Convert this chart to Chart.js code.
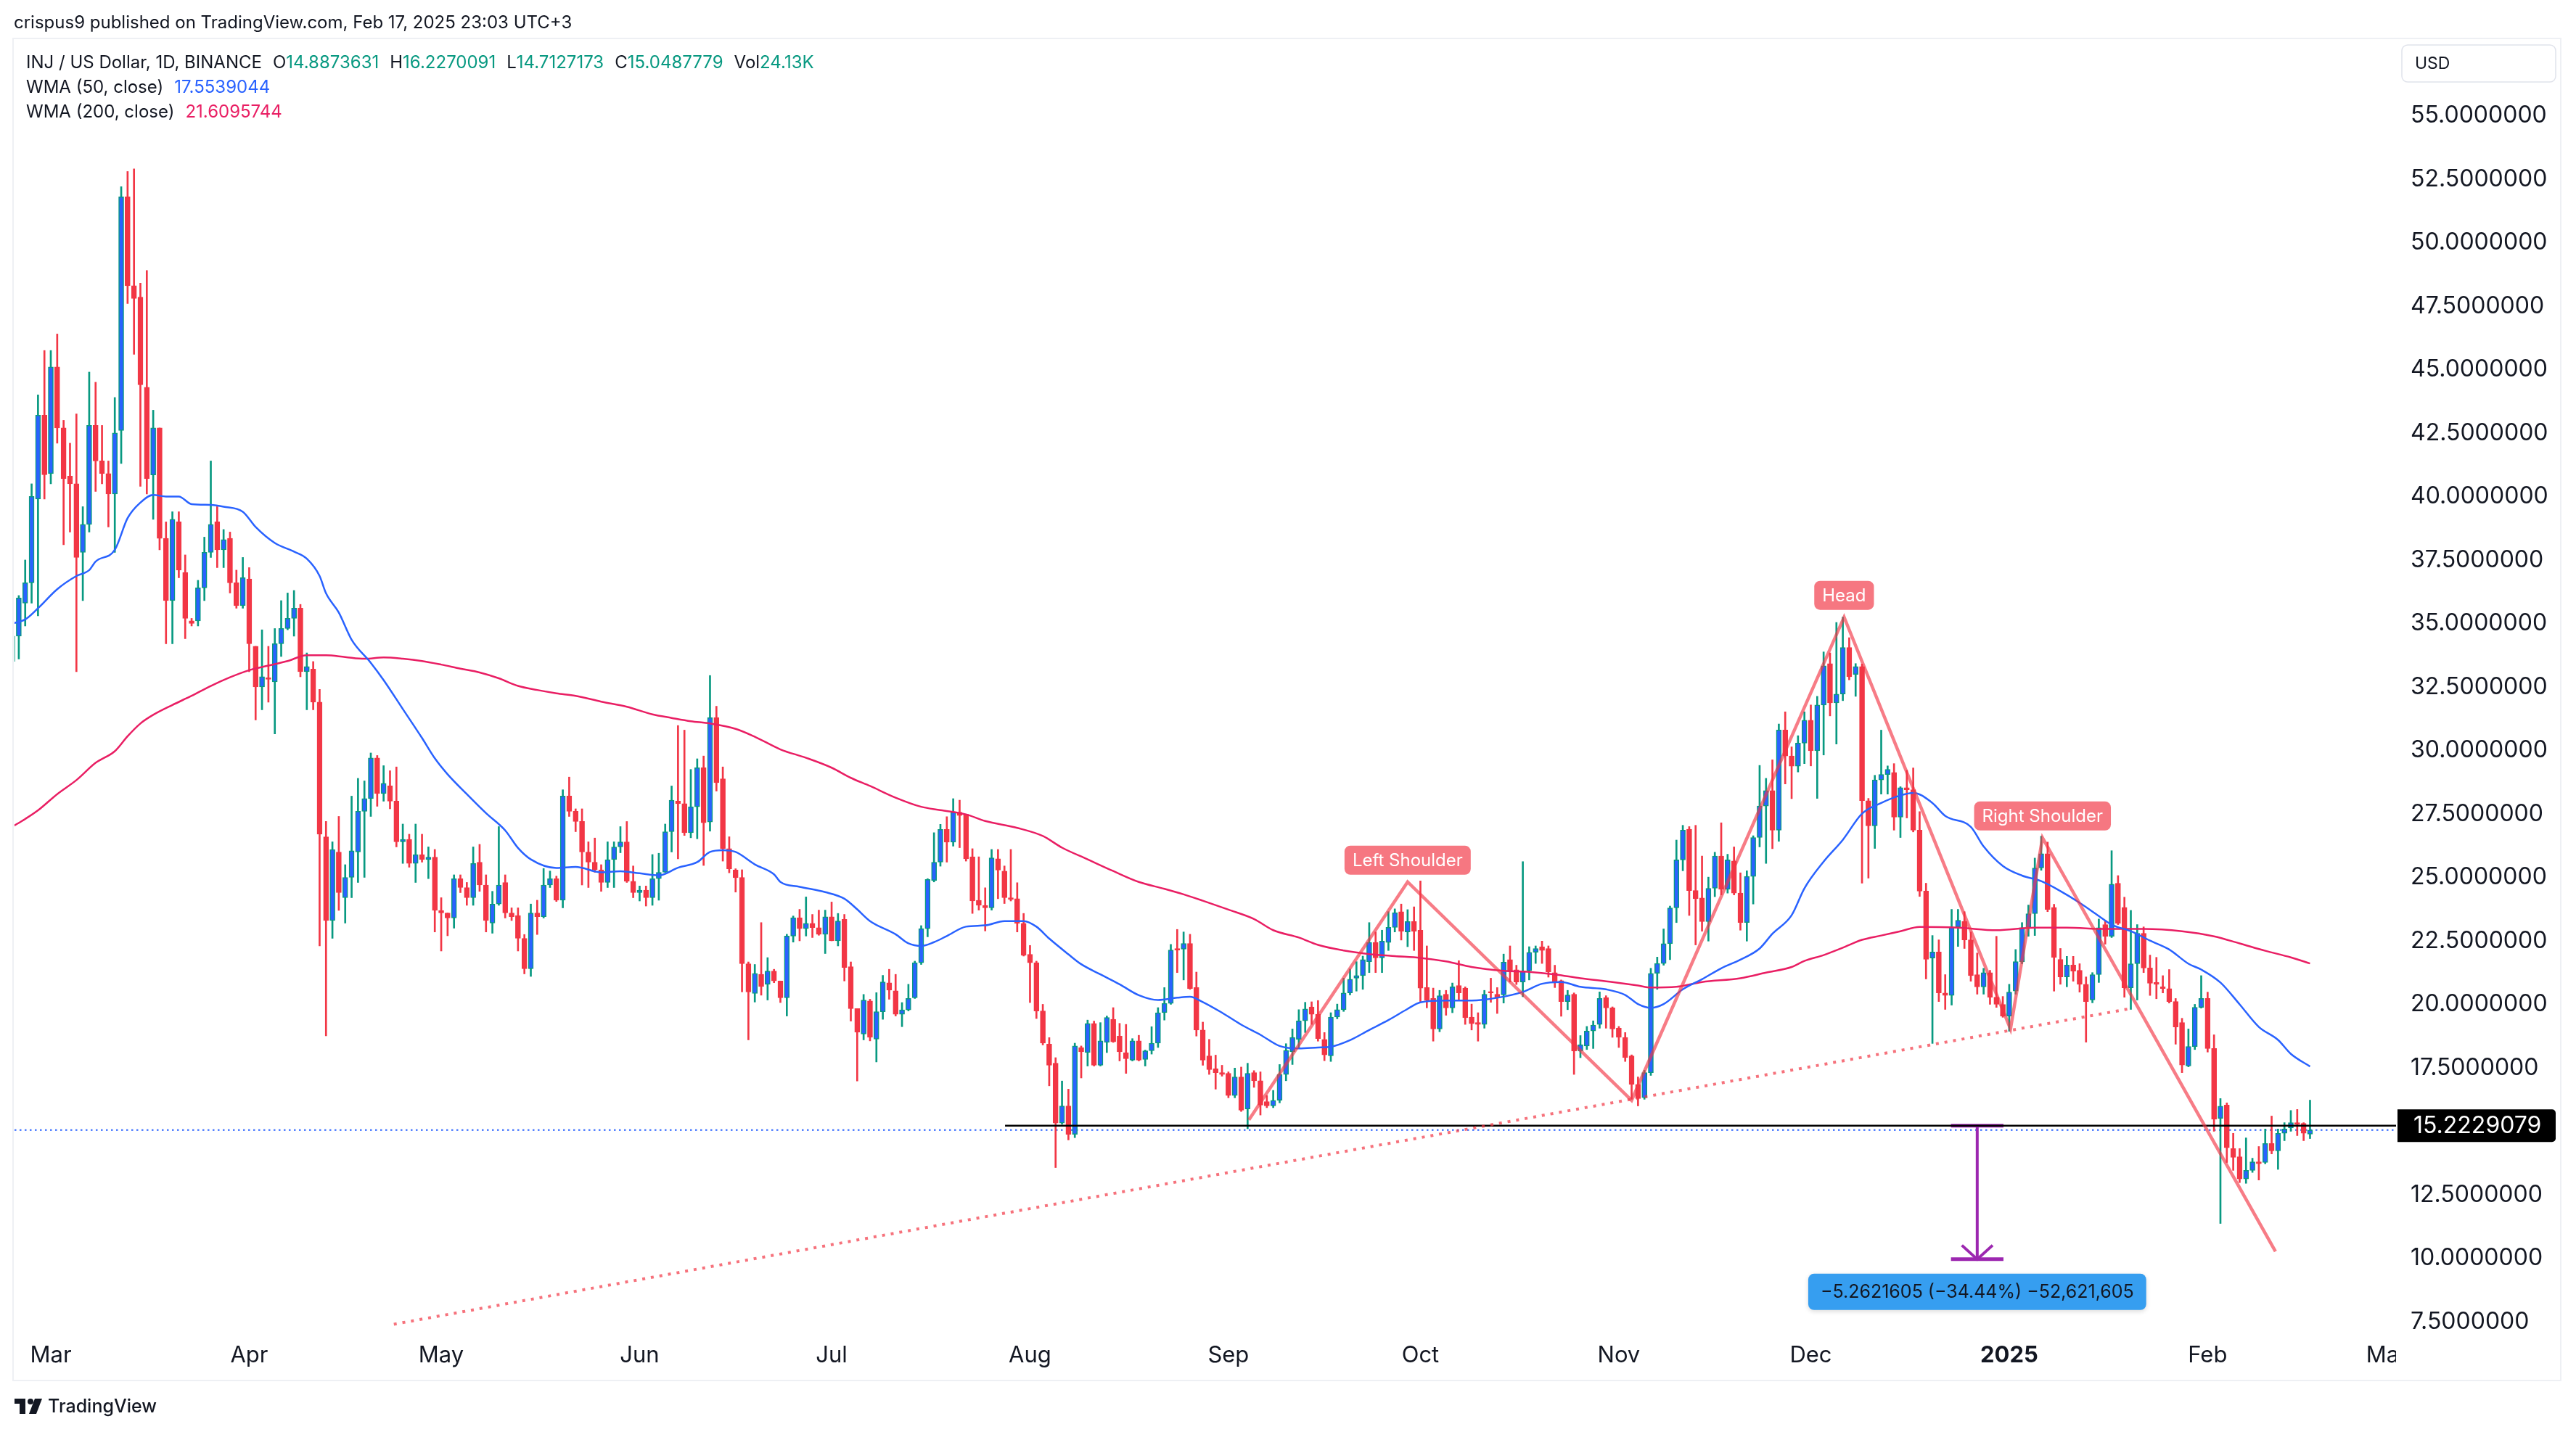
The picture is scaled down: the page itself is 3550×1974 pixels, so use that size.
<!DOCTYPE html>
<html>
<head>
<meta charset="utf-8">
<script src="https://cdn.jsdelivr.net/npm/chart.js@4.4.1/dist/chart.umd.min.js"></script>
<style>
  html, body { margin: 0; padding: 0; background: #fff; }
  #wrap { width: 3550px; height: 1974px; position: relative; }
</style>
</head>
<body>
<div id="wrap"><canvas id="chart"></canvas></div>
<script>
// INJ / US Dollar, 1D, BINANCE. day 0 = Mar 1 2024, first candle Feb 24 2024
const firstDay = -6;
const opens = [
  33.5, 34.5, 35.8, 36.6, 39.9, 43.2, 40.9, 45.1, 42.7, 40.8,
  40.5, 37.8, 38.9, 42.8, 41.4, 40.9, 40.1, 42.6, 51.8, 48.3,
  47.85, 44.3, 40.85, 42.7, 38.35, 35.9, 39.0, 37.0, 35.1, 35.1,
  36.4, 37.8, 39.0, 37.9, 38.35, 36.6, 35.7, 36.75, 34.1, 32.5,
  32.85, 32.7, 34.2, 34.8, 35.2, 35.6, 33.1, 33.2, 31.9, 26.6,
  23.3, 26.0, 24.2, 25.0, 26.0, 27.6, 28.1, 29.7, 28.3, 28.6,
  28.0, 26.4, 26.5, 25.55, 25.9, 25.7, 25.8, 23.7, 23.6, 23.4,
  24.95, 24.6, 24.2, 25.6, 24.7, 23.2, 23.95, 24.8, 23.6, 23.5,
  22.6, 21.4, 23.6, 23.45, 24.7, 24.95, 24.1, 28.2, 27.6, 27.2,
  26.0, 25.6, 25.3, 24.8, 25.7, 26.2, 26.4, 24.85, 24.4, 24.5,
  24.2, 24.95, 25.2, 26.8, 28.0, 27.9, 26.76, 27.78, 29.32, 27.18,
  31.29, 28.88, 26.13, 25.29, 25.0, 21.6, 20.43, 21.18, 20.79, 21.31,
  20.92, 20.26, 22.69, 23.41, 22.98, 23.19, 23.02, 22.76, 23.45, 22.5,
  23.35, 21.48, 19.83, 18.83, 20.13, 18.63, 19.71, 20.85, 20.53, 19.61,
  19.78, 20.26, 21.64, 22.98, 24.88, 25.6, 26.89, 26.39, 27.57, 27.48,
  25.81, 24.1, 23.9, 23.8, 25.73, 25.25, 24.2, 24.16, 23.19, 21.97,
  21.64, 19.74, 18.43, 17.68, 15.32, 16.0, 14.88, 18.3, 18.1, 19.25,
  17.6, 18.5, 19.41, 18.75, 18.1, 17.8, 18.56, 17.83, 18.17, 18.47,
  19.67, 20.04, 22.19, 22.17, 22.4, 20.66, 18.99, 17.97, 17.46, 17.31,
  17.28, 16.41, 17.14, 15.88, 17.31, 16.99, 16.17, 16.0, 16.22, 17.24,
  18.14, 18.62, 19.35, 19.9, 19.61, 18.62, 17.97, 19.5, 19.79, 20.45,
  21.03, 21.13, 21.68, 22.44, 21.83, 22.44, 23.03, 23.65, 22.85, 23.26,
  22.92, 20.66, 20.23, 19.03, 20.4, 19.86, 20.74, 20.64, 19.5, 19.28,
  19.21, 20.49, 20.4, 20.37, 21.76, 21.36, 20.88, 21.32, 22.05, 22.27,
  22.2, 21.25, 20.93, 20.11, 20.4, 18.16, 18.36, 18.95, 19.21, 20.26,
  19.86, 19.06, 18.7, 17.97, 16.85, 16.32, 17.31, 21.22, 21.61, 22.39,
  23.8, 25.69, 26.9, 24.48, 24.19, 23.26, 24.57, 25.84, 24.53, 25.65,
  24.38, 23.22, 25.04, 26.57, 27.81, 28.42, 26.86, 30.8, 29.78, 29.38,
  30.29, 31.19, 29.99, 31.79, 33.42, 31.87, 32.22, 34.05, 32.99, 33.3,
  28.02, 27.03, 28.84, 29.05, 29.13, 27.37, 28.53, 28.45, 26.86, 24.46,
  21.82, 22.06, 20.45, 20.35, 23.05, 23.26, 22.54, 21.17, 20.69, 21.25,
  20.28, 20.0, 19.54, 20.52, 21.68, 23.02, 23.57, 25.37, 25.93, 23.82,
  21.77, 21.08, 21.55, 21.34, 20.79, 20.17, 21.17, 23.14, 22.68, 24.77,
  23.82, 20.65, 21.6, 22.8, 21.43, 20.86, 20.69, 20.62, 20.11, 19.28,
  17.57, 18.34, 19.88, 20.23, 18.26, 15.51, 16.03, 14.32, 14.0, 13.12,
  13.46, 13.8, 13.77, 14.52, 14.23, 14.92, 15.14, 15.34, 15.31, 14.8873631
];
const highs = [
  34.7, 36.1, 37.5, 40.5, 44.0, 45.75, 45.75, 46.4, 43.0, 42.1,
  43.25, 39.6, 44.9, 44.5, 42.8, 41.4, 43.9, 52.2, 52.8, 52.9,
  48.4, 48.9, 43.4, 42.7, 39.0, 39.4, 39.4, 37.7, 35.2, 36.7,
  38.4, 41.4, 39.6, 38.7, 38.6, 37.1, 37.6, 37.2, 34.1, 34.75,
  34.1, 34.8, 35.9, 36.2, 36.3, 35.75, 33.84, 33.5, 32.4, 27.2,
  26.4, 27.4, 25.5, 28.2, 28.9, 28.8, 29.9, 29.8, 29.4, 29.2,
  29.35, 27.1, 26.7, 27.1, 26.7, 26.2, 26.1, 24.2, 23.6, 25.1,
  25.1, 24.8, 26.2, 26.3, 25.1, 24.45, 27.0, 25.1, 23.8, 23.8,
  22.75, 23.95, 24.1, 25.35, 25.25, 25.05, 28.45, 28.95, 27.7, 27.7,
  26.4, 26.55, 25.5, 26.4, 26.4, 27.0, 27.2, 25.45, 24.66, 24.66,
  25.9, 25.95, 27.1, 28.6, 30.98, 30.8, 29.25, 29.67, 29.78, 32.95,
  31.74, 29.35, 26.6, 25.34, 25.3, 21.67, 21.57, 23.22, 21.84, 21.38,
  20.92, 22.76, 23.48, 23.74, 24.23, 23.54, 23.71, 23.71, 24.03, 23.58,
  23.54, 21.67, 19.83, 20.39, 20.2, 20.46, 21.14, 21.38, 21.18, 20.07,
  20.79, 21.7, 23.1, 24.95, 26.76, 27.09, 27.39, 28.1, 28.04, 27.48,
  26.13, 25.81, 24.59, 26.1, 26.1, 25.45, 26.1, 24.79, 23.58, 22.32,
  21.7, 20.0, 18.69, 17.9, 16.98, 16.66, 18.47, 18.36, 19.38, 19.34,
  19.28, 19.54, 19.87, 19.25, 19.21, 18.65, 18.78, 18.2, 19.12, 19.87,
  20.66, 22.36, 22.95, 22.85, 22.76, 21.27, 19.3, 18.62, 18.0, 17.6,
  17.34, 17.49, 17.53, 17.68, 17.39, 17.34, 16.41, 16.61, 17.63, 18.45,
  19.03, 19.79, 20.08, 20.1, 20.15, 18.89, 19.67, 20.01, 21.03, 21.39,
  21.68, 21.9, 23.22, 22.85, 22.92, 23.65, 23.76, 23.95, 23.73, 23.84,
  24.86, 22.3, 20.64, 20.55, 20.55, 20.84, 21.72, 20.69, 20.01, 19.67,
  20.55, 21.03, 20.66, 21.98, 22.3, 21.54, 25.62, 22.27, 22.3, 22.49,
  22.3, 21.54, 20.96, 20.55, 20.45, 18.77, 19.13, 19.35, 20.49, 20.34,
  19.9, 19.13, 18.89, 18.01, 17.14, 17.4, 21.42, 21.86, 22.97, 23.87,
  26.47, 27.05, 27.0, 27.05, 25.84, 25.01, 25.99, 27.15, 25.91, 26.2,
  25.18, 25.26, 26.64, 29.41, 28.9, 29.63, 31.04, 31.52, 30.14, 30.58,
  31.52, 31.79, 32.13, 33.88, 33.84, 35.04, 35.25, 34.44, 33.42, 33.4,
  28.11, 29.02, 30.8, 29.39, 29.48, 28.57, 29.22, 29.31, 27.59, 24.77,
  22.71, 22.54, 21.17, 23.74, 23.74, 23.65, 22.85, 22.02, 21.42, 21.34,
  22.68, 20.31, 20.79, 22.16, 23.22, 23.91, 25.76, 26.62, 26.39, 23.94,
  22.2, 21.89, 21.89, 21.6, 21.08, 21.25, 23.36, 23.31, 26.05, 25.07,
  24.22, 23.7, 23.14, 23.05, 21.94, 21.85, 21.13, 21.37, 20.23, 19.45,
  19.03, 20.0, 21.13, 20.48, 18.8, 16.29, 16.12, 14.92, 14.32, 14.74,
  13.94, 14.4, 15.09, 15.6, 15.09, 15.34, 15.82, 15.86, 15.34, 16.2270091
];
const lows = [
  32.9, 33.6, 34.9, 35.8, 35.3, 39.9, 40.5, 42.1, 38.1, 38.6,
  33.1, 35.9, 38.6, 40.2, 40.5, 38.8, 37.8, 41.3, 47.6, 45.6,
  40.4, 40.1, 39.1, 37.9, 34.2, 34.2, 36.8, 34.4, 34.9, 34.9,
  35.9, 37.6, 37.2, 37.2, 36.2, 35.6, 35.6, 33.1, 31.2, 31.6,
  31.9, 30.65, 33.7, 34.75, 34.5, 32.9, 31.6, 31.6, 22.3, 18.76,
  22.6, 23.7, 23.2, 24.2, 24.8, 25.0, 27.4, 27.8, 28.0, 27.7,
  26.2, 25.55, 25.4, 24.8, 25.6, 24.95, 22.85, 22.1, 22.7, 23.0,
  24.4, 23.9, 23.9, 24.45, 22.85, 22.8, 23.9, 23.4, 23.3, 22.1,
  21.2, 21.1, 22.75, 23.4, 24.6, 24.05, 23.8, 27.4, 26.8, 24.7,
  24.6, 25.2, 24.45, 24.6, 24.6, 25.97, 24.8, 24.2, 24.07, 23.87,
  23.9, 24.1, 25.2, 26.0, 25.73, 26.65, 26.56, 26.52, 25.47, 26.82,
  28.4, 25.64, 25.18, 24.42, 20.49, 18.6, 20.09, 20.36, 20.17, 20.85,
  20.07, 19.54, 22.45, 22.5, 22.69, 22.63, 22.72, 22.0, 22.5, 22.3,
  20.92, 19.34, 16.98, 18.6, 18.56, 17.73, 19.41, 20.2, 19.54, 19.12,
  19.74, 20.23, 21.57, 22.66, 24.82, 25.44, 25.6, 26.23, 26.17, 25.64,
  23.58, 23.71, 22.89, 23.71, 24.16, 23.97, 24.07, 22.85, 21.9, 20.07,
  19.44, 18.4, 16.79, 13.57, 15.28, 14.66, 14.75, 17.1, 17.57, 17.57,
  17.57, 18.1, 18.5, 17.77, 17.28, 17.77, 17.77, 17.57, 18.04, 18.3,
  19.38, 20.0, 21.25, 20.96, 20.59, 18.75, 17.6, 17.24, 16.66, 17.17,
  16.32, 16.32, 15.78, 15.1, 16.73, 15.64, 15.93, 15.93, 16.12, 16.99,
  17.63, 18.3, 18.89, 19.21, 18.55, 17.78, 17.75, 19.43, 19.72, 20.37,
  20.52, 20.59, 21.25, 21.25, 21.25, 22.12, 22.85, 22.53, 22.27, 22.12,
  20.11, 19.86, 18.55, 18.92, 19.57, 19.67, 20.15, 19.21, 18.99, 18.55,
  19.06, 20.08, 19.64, 20.05, 20.88, 20.78, 20.3, 20.96, 21.61, 21.61,
  21.07, 20.66, 19.53, 19.79, 17.24, 17.9, 18.22, 18.26, 19.06, 19.06,
  18.7, 18.3, 17.75, 16.26, 16.0, 16.26, 17.2, 20.59, 21.54, 21.76,
  23.22, 25.26, 23.5, 22.34, 22.88, 22.49, 24.24, 24.31, 24.38, 24.31,
  22.92, 22.49, 23.95, 26.2, 25.55, 26.13, 26.42, 28.68, 28.1, 29.15,
  29.48, 29.39, 28.11, 29.82, 31.36, 30.25, 31.96, 32.78, 32.13, 24.77,
  24.97, 26.14, 28.28, 28.28, 26.86, 26.57, 27.34, 26.79, 24.25, 21.0,
  18.46, 20.11, 19.8, 19.97, 22.28, 22.2, 20.91, 20.4, 20.4, 20.0,
  19.88, 19.49, 18.94, 20.4, 21.6, 22.68, 22.71, 25.28, 23.65, 20.52,
  20.79, 20.69, 20.91, 20.48, 18.51, 20.06, 20.86, 22.37, 22.63, 23.14,
  20.28, 19.8, 20.17, 21.25, 20.35, 20.22, 20.45, 20.05, 18.43, 17.31,
  17.54, 18.22, 19.85, 18.12, 15.0, 11.37, 13.77, 13.46, 12.98, 12.95,
  13.38, 13.08, 13.72, 14.11, 13.5, 14.63, 15.0, 14.83, 14.63, 14.7127173
];
const closes = [
  34.5, 36.0, 36.6, 40.0, 43.2, 40.86, 45.1, 42.7, 40.7, 40.5,
  37.6, 38.9, 42.8, 41.4, 40.9, 40.1, 42.5, 51.8, 48.3, 47.8,
  44.4, 40.7, 42.7, 38.35, 35.9, 39.1, 37.1, 35.2, 35.0, 36.4,
  37.8, 38.9, 37.9, 38.3, 36.6, 35.7, 36.8, 34.2, 32.5, 32.9,
  32.8, 34.2, 34.8, 35.2, 35.6, 33.1, 33.3, 31.9, 26.7, 23.3,
  26.1, 24.4, 25.0, 26.05, 27.6, 28.1, 29.7, 28.3, 28.7, 28.0,
  26.4, 26.5, 25.55, 25.9, 25.7, 25.8, 23.7, 23.6, 23.4, 24.95,
  24.6, 24.2, 25.55, 24.7, 23.3, 23.95, 24.7, 23.6, 23.45, 22.6,
  21.4, 23.6, 23.45, 24.7, 24.95, 24.1, 28.2, 27.6, 27.2, 26.0,
  25.6, 25.3, 24.8, 25.7, 26.2, 26.4, 24.85, 24.4, 24.5, 24.2,
  24.95, 25.2, 26.8, 28.04, 27.9, 26.76, 27.78, 29.32, 27.15, 31.29,
  28.73, 26.13, 25.34, 24.99, 21.6, 20.49, 21.22, 20.7, 21.31, 20.92,
  20.26, 22.69, 23.41, 22.98, 23.19, 23.02, 22.76, 23.45, 22.5, 23.28,
  21.45, 19.83, 18.9, 20.17, 18.7, 19.71, 20.88, 20.56, 19.61, 19.78,
  20.23, 21.64, 22.98, 24.92, 25.6, 26.89, 26.39, 27.57, 27.44, 25.73,
  24.07, 23.9, 23.8, 25.77, 25.29, 24.2, 24.13, 23.19, 21.93, 21.64,
  19.74, 18.47, 17.6, 15.32, 16.0, 14.88, 18.36, 18.13, 19.25, 17.6,
  18.56, 19.48, 18.52, 18.13, 17.86, 18.56, 17.8, 18.17, 18.47, 19.67,
  20.04, 22.14, 22.14, 22.4, 20.62, 18.99, 17.8, 17.43, 17.31, 17.24,
  16.41, 17.14, 15.83, 17.28, 16.99, 16.03, 16.0, 16.22, 17.24, 18.19,
  18.7, 19.35, 19.82, 19.61, 18.65, 18.01, 19.5, 19.79, 20.45, 20.99,
  21.13, 21.76, 22.44, 21.83, 22.49, 23.03, 23.61, 22.88, 23.26, 22.88,
  20.64, 20.15, 19.03, 20.34, 19.86, 20.69, 20.45, 19.47, 19.24, 19.21,
  20.4, 20.45, 20.26, 21.66, 21.32, 20.88, 21.32, 22.05, 22.2, 22.12,
  21.28, 20.88, 20.11, 20.37, 18.16, 18.41, 18.95, 19.18, 20.23, 19.86,
  19.03, 18.7, 17.9, 16.85, 16.29, 17.31, 21.22, 21.61, 22.39, 23.8,
  25.69, 26.86, 24.48, 24.16, 23.26, 24.57, 25.84, 24.53, 25.69, 24.38,
  23.22, 25.04, 26.57, 27.81, 28.42, 26.86, 30.8, 29.78, 29.38, 30.29,
  31.19, 29.99, 31.79, 33.33, 31.87, 32.22, 34.05, 32.9, 33.3, 28.02,
  27.03, 28.84, 29.05, 29.25, 27.37, 28.53, 28.45, 26.86, 24.46, 21.77,
  22.06, 20.45, 20.35, 23.05, 23.31, 22.54, 21.13, 20.69, 21.25, 20.28,
  20.0, 19.54, 20.48, 21.68, 23.02, 23.57, 25.37, 25.93, 23.74, 21.85,
  21.08, 21.55, 21.31, 20.79, 20.11, 21.17, 23.02, 22.68, 24.73, 23.19,
  20.65, 21.6, 22.8, 21.43, 20.83, 20.79, 20.62, 20.11, 19.11, 17.61,
  18.34, 19.88, 20.23, 18.26, 15.48, 15.99, 14.35, 13.97, 13.12, 13.46,
  13.8, 13.72, 14.52, 14.23, 14.92, 15.09, 15.34, 15.28, 14.92, 15.0487779
];
const lastVolume = '24.13K';

// WMA (50, close)
const wma50Days = [-6, -4, -2, 1, 4, 6, 7, 10, 12, 14, 16, 18, 20, 22, 25, 27, 30, 32, 35, 38,
  40, 42, 43, 45, 47, 50, 52, 55, 58, 60, 62, 65, 68, 71, 73, 75, 79, 82, 86, 89,
  92, 95, 98, 101, 103, 105, 107, 110, 113, 114, 117, 121, 124, 126, 128, 132, 134, 136, 138, 140,
  143, 146, 149, 152, 154, 156, 159, 161, 164, 167, 170, 173, 176, 178, 180, 183, 186, 189, 192, 195,
  198, 200, 203, 206, 209, 212, 214, 218, 222, 226, 230, 233, 236, 239, 243, 246, 248, 250, 252, 255,
  258, 261, 264, 267, 269, 272, 274, 277, 280, 283, 286, 289, 291, 294, 296, 300, 302, 305, 308, 311,
  314, 317, 320, 322, 325, 328, 331, 334, 336, 339, 342, 345, 348, 350, 353];
const wma50 = [35.0, 35.16, 35.6, 36.35, 36.87, 37.1, 37.44, 37.9, 39.15, 39.76, 40.06, 40.0, 40.0, 39.7, 39.67, 39.6, 39.4, 38.8, 38.17, 37.83,
  37.55, 36.87, 36.19, 35.43, 34.36, 33.45, 32.77, 31.63, 30.49, 29.69, 29.06, 28.28, 27.53, 26.85, 26.16, 25.71, 25.37, 25.41, 25.2, 25.24,
  25.16, 25.08, 25.38, 25.6, 26.0, 26.07, 26.0, 25.51, 25.12, 24.82, 24.63, 24.42, 24.16, 23.74, 23.28, 22.76, 22.4, 22.3, 22.45, 22.69,
  23.06, 23.11, 23.28, 23.28, 23.06, 22.59, 21.97, 21.58, 21.18, 20.79, 20.36, 20.17, 20.26, 20.3, 20.09, 19.67, 19.2, 18.8, 18.36, 18.26,
  18.3, 18.33, 18.59, 18.99, 19.38, 19.82, 20.08, 20.15, 20.15, 20.26, 20.49, 20.81, 20.88, 20.69, 20.59, 20.37, 20.01, 19.86, 20.01, 20.59,
  20.99, 21.42, 21.76, 22.2, 22.78, 23.51, 24.57, 25.62, 26.48, 27.51, 27.93, 28.23, 28.33, 27.93, 27.42, 26.99, 26.22, 25.45, 25.07, 24.85,
  24.46, 24.0, 23.48, 23.14, 22.88, 22.51, 22.16, 21.6, 21.37, 20.86, 20.0, 19.11, 18.6, 18.05, 17.5539044];

// WMA (200, close)
const wma200Days = [-6, -4, -2, 1, 4, 7, 10, 12, 14, 16, 19, 22, 25, 28, 31, 34, 37, 40, 43, 46,
  49, 52, 55, 58, 61, 64, 67, 70, 73, 76, 79, 82, 86, 90, 94, 97, 100, 103, 107, 110,
  114, 118, 122, 125, 128, 132, 136, 139, 143, 146, 151, 155, 158, 162, 166, 170, 174, 177, 180, 184,
  188, 191, 195, 198, 202, 206, 210, 214, 218, 222, 227, 231, 235, 239, 244, 248, 250, 254, 258, 264,
  268, 272, 274, 277, 280, 283, 286, 289, 292, 298, 304, 310, 315, 321, 327, 333, 338, 342, 346, 350, 353];
const wma200 = [27.0, 27.3, 27.64, 28.28, 28.83, 29.51, 29.97, 30.56, 31.06, 31.4, 31.79, 32.15, 32.54, 32.88, 33.16, 33.34, 33.52, 33.75, 33.75, 33.68,
  33.61, 33.66, 33.61, 33.52, 33.38, 33.22, 33.07, 32.84, 32.54, 32.38, 32.25, 32.15, 31.92, 31.72, 31.42, 31.28, 31.15, 31.06, 30.85, 30.54,
  30.04, 29.71, 29.32, 28.92, 28.6, 28.14, 27.78, 27.65, 27.48, 27.22, 26.95, 26.63, 26.17, 25.71, 25.25, 24.82, 24.55, 24.33, 24.08, 23.73,
  23.36, 22.92, 22.63, 22.34, 22.12, 21.98, 21.9, 21.83, 21.69, 21.47, 21.32, 21.28, 21.18, 21.03, 20.88, 20.74, 20.66, 20.69, 20.88, 21.03,
  21.25, 21.47, 21.71, 21.94, 22.23, 22.54, 22.71, 22.88, 23.05, 23.02, 22.92, 23.02, 23.02, 22.97, 22.97, 22.88, 22.68, 22.4, 22.11, 21.85, 21.6095744];

// axis ticks
const monthDays = [0, 31, 61, 92, 122, 153, 184, 214, 245, 275, 306, 337, 365];
const monthLabels = ['Mar', 'Apr', 'May', 'Jun', 'Jul', 'Aug', 'Sep', 'Oct', 'Nov', 'Dec', '2025', 'Feb', 'Mar'];
const priceTicks = [7.5, 10, 12.5, 15, 17.5, 20, 22.5, 25, 27.5, 30, 32.5, 35, 37.5, 40, 42.5, 45, 47.5, 50, 52.5, 55];

// head and shoulders drawing
const patternDays = [187.2, 212, 247, 280.2, 306.2, 311.2, 347.6];
const patternPrices = [15.45, 24.82, 16.22, 35.25, 19.03, 26.56, 10.27];
const patternNames = ['', 'Left Shoulder', '', 'Head', '', 'Right Shoulder', ''];
const necklineDays = [53.6, 325.3];
const necklinePrices = [7.4, 19.85];
const levelPrice = 15.2229079;
const levelStartDay = 149.1;
const targetDay = 301;
const targetPrice = 9.9607474;
const measureText = '\u22125.2621605 (\u221234.44%) \u221252,621,605';

const DARK = '#131722', GREEN = '#089981', RED = '#f23645', BLUE = '#2962ff', PINK = '#e91e63';
const FONT = 'Inter, "Noto Sans", sans-serif';
Chart.defaults.font.family = FONT;

const xMin = -5.67, xMax = 366.44;
const candleDays = opens.map((_, i) => firstDay + i);
const up = opens.map((o, i) => closes[i] >= o);
const pts = (xs, ys) => xs.map((v, i) => ({ x: v, y: ys[i] }));

const arrowHalf = 4.1, headHalf = 2.4, headRise = 0.55;

const datasets = [
  { type: 'line', label: 'zigzag', data: pts(patternDays, patternPrices), borderColor: 'rgba(242,54,69,0.65)', borderWidth: 4.5, pointRadius: 0, order: 0 },
  { type: 'line', label: 'neckline', data: pts(necklineDays, necklinePrices), borderColor: 'rgba(242,54,69,0.7)', borderWidth: 4, borderDash: [4, 8], pointRadius: 0, order: 0 },
  { type: 'line', label: 'level', data: pts([levelStartDay, xMax], [levelPrice, levelPrice]), borderColor: '#000', borderWidth: 2.5, pointRadius: 0, order: 0 },
  { type: 'line', label: 'arrowTop', data: pts([targetDay - arrowHalf, targetDay + arrowHalf], [levelPrice, levelPrice]), borderColor: '#9c27b0', borderWidth: 5, pointRadius: 0, order: 0 },
  { type: 'line', label: 'arrowStem', data: pts([targetDay, targetDay], [levelPrice, targetPrice]), borderColor: '#9c27b0', borderWidth: 4, pointRadius: 0, order: 0 },
  { type: 'line', label: 'arrowBottom', data: pts([targetDay - arrowHalf, targetDay + arrowHalf], [targetPrice, targetPrice]), borderColor: '#9c27b0', borderWidth: 5, pointRadius: 0, order: 0 },
  { type: 'line', label: 'arrowHead', data: pts([targetDay - headHalf, targetDay, targetDay + headHalf], [targetPrice + headRise, targetPrice, targetPrice + headRise]), borderColor: '#9c27b0', borderWidth: 4, pointRadius: 0, order: 0 },
  { type: 'line', label: 'WMA 50', data: pts(wma50Days, wma50), borderColor: BLUE, borderWidth: 2.5, pointRadius: 0, cubicInterpolationMode: 'monotone', order: 1 },
  { type: 'line', label: 'WMA 200', data: pts(wma200Days, wma200), borderColor: PINK, borderWidth: 2.5, pointRadius: 0, cubicInterpolationMode: 'monotone', order: 1 },
  { type: 'bar', label: 'body', data: candleDays.map((d, i) => ({ x: d, y: [opens[i], closes[i]] })),
    backgroundColor: up.map(u => u ? BLUE : RED), borderColor: up.map(u => u ? GREEN : RED),
    borderWidth: 1.5, borderSkipped: false, barThickness: 7, minBarLength: 2, grouped: false, order: 2 },
  { type: 'bar', label: 'wick', data: candleDays.map((d, i) => ({ x: d, y: [lows[i], highs[i]] })),
    backgroundColor: up.map(u => u ? GREEN : RED), borderWidth: 0, barThickness: 2, grouped: false, order: 3 },
  { type: 'line', label: 'price line', data: pts([xMin, xMax], [closes[closes.length - 1], closes[closes.length - 1]]), borderColor: BLUE, borderWidth: 2, borderDash: [2.5, 4.5], pointRadius: 0, order: 4 }
];

function box(ctx, x, y, w, h, r, fill) {
  ctx.beginPath();
  ctx.roundRect(x, y, w, h, r);
  ctx.fillStyle = fill;
  ctx.fill();
}

function runs(ctx, x, y, parts) {
  for (const [t, c, gap] of parts) {
    ctx.fillStyle = c;
    ctx.fillText(t, x, y);
    x += ctx.measureText(t).width + (gap || 0);
  }
}

const overlay = {
  id: 'overlay',
  afterDraw(chart) {
    const { ctx, chartArea: a, scales: { x, y } } = chart;
    ctx.save();
    // hide the clipped part of the time axis under the price scale
    ctx.fillStyle = '#fff';
    ctx.fillRect(a.right, a.bottom, 3528 - a.right, 72);

    // frame
    ctx.strokeStyle = '#eef0f4';
    ctx.lineWidth = 2;
    ctx.strokeRect(18, 53, 3511, 1850);

    // header and legend
    ctx.textBaseline = 'middle';
    ctx.textAlign = 'left';
    ctx.font = '24px ' + FONT;
    ctx.fillStyle = DARK;
    ctx.fillText('crispus9 published on TradingView.com, Feb 17, 2025 23:03 UTC+3', 19, 32);
    const n = closes.length - 1;
    runs(ctx, 36, 87, [
      ['INJ / US Dollar, 1D, BINANCE', DARK, 15],
      ['O', DARK], [opens[n].toFixed(7), GREEN, 15],
      ['H', DARK], [highs[n].toFixed(7), GREEN, 15],
      ['L', DARK], [lows[n].toFixed(7), GREEN, 15],
      ['C', DARK], [closes[n].toFixed(7), GREEN, 15],
      ['Vol', DARK], [lastVolume, GREEN]
    ]);
    runs(ctx, 36, 121, [['WMA (50, close)', DARK, 15], [wma50[wma50.length - 1].toFixed(7), BLUE]]);
    runs(ctx, 36, 155, [['WMA (200, close)', DARK, 15], [wma200[wma200.length - 1].toFixed(7), PINK]]);

    // currency box
    ctx.beginPath();
    ctx.roundRect(3310, 62, 212, 51, 8);
    ctx.strokeStyle = '#e0e3eb';
    ctx.lineWidth = 1.5;
    ctx.stroke();
    ctx.font = '23px ' + FONT;
    ctx.fillStyle = DARK;
    ctx.fillText('USD', 3328, 88);

    // pattern labels
    ctx.font = '24px ' + FONT;
    ctx.textAlign = 'center';
    patternNames.forEach((name, i) => {
      if (!name) return;
      const px = x.getPixelForValue(patternDays[i]);
      const py = y.getPixelForValue(patternPrices[i]);
      const w = ctx.measureText(name).width + 22;
      box(ctx, px - w / 2, py - 50, w, 40, 8, 'rgba(242,54,69,0.68)');
      ctx.fillStyle = '#fff';
      ctx.fillText(name, px, py - 29);
    });

    // measurement label
    ctx.font = '25px ' + FONT;
    const mx = x.getPixelForValue(targetDay);
    const my = y.getPixelForValue(targetPrice) + 20;
    const mw = ctx.measureText(measureText).width + 34;
    ctx.shadowColor = 'rgba(0,0,0,0.15)';
    ctx.shadowBlur = 6;
    ctx.shadowOffsetY = 2;
    box(ctx, mx - mw / 2, my, mw, 50, 8, '#369ef0');
    ctx.shadowColor = 'transparent';
    ctx.fillStyle = DARK;
    ctx.fillText(measureText, mx, my + 26);

    // price scale label of the level line
    const ly = y.getPixelForValue(levelPrice);
    ctx.beginPath();
    ctx.roundRect(a.right + 2, ly - 22.5, 218, 45, [0, 5, 5, 0]);
    ctx.fillStyle = '#000';
    ctx.fill();
    ctx.textAlign = 'left';
    ctx.font = '32px ' + FONT;
    ctx.fillStyle = '#fff';
    ctx.fillText(levelPrice.toFixed(7), a.right + 24, ly + 1);

    // TradingView logo
    ctx.fillStyle = DARK;
    ctx.fillRect(20, 1928, 15, 7);
    ctx.fillRect(27, 1928, 8, 21);
    ctx.beginPath();
    ctx.arc(42, 1932, 4, 0, Math.PI * 2);
    ctx.fill();
    ctx.beginPath();
    ctx.moveTo(48, 1928); ctx.lineTo(58, 1928); ctx.lineTo(50, 1949); ctx.lineTo(40, 1949);
    ctx.closePath();
    ctx.fill();
    ctx.font = '500 25px ' + FONT;
    ctx.fillText('TradingView', 66, 1939);
    ctx.restore();
  }
};

new Chart(document.getElementById('chart'), {
  type: 'bar',
  data: { datasets },
  options: {
    responsive: true,
    maintainAspectRatio: false,
    devicePixelRatio: 1,
    animation: false,
    layout: { padding: { left: 20, right: 0, top: 53, bottom: 71 } },
    plugins: { legend: { display: false }, tooltip: { enabled: false } },
    scales: {
      x: {
        type: 'linear', min: xMin, max: xMax, offset: false,
        grid: { display: false, drawTicks: false }, border: { display: false },
        afterBuildTicks: s => { s.ticks = monthDays.map(v => ({ value: v })); },
        afterFit: s => { s.height = 71; },
        ticks: {
          autoSkip: false, maxRotation: 0, padding: 18, color: DARK,
          font: c => ({ size: 31, weight: c.tick && c.tick.label === '2025' ? 'bold' : 'normal' }),
          callback: (v, i) => monthLabels[i]
        }
      },
      y: {
        type: 'linear', position: 'right', min: 7.214, max: 58.04,
        grid: { display: false, drawTicks: false }, border: { display: false },
        afterBuildTicks: s => { s.ticks = priceTicks.map(v => ({ value: v })); },
        afterFit: s => { s.width = 248; },
        ticks: { padding: 20, color: DARK, font: { size: 32 }, callback: v => v.toFixed(7) }
      }
    }
  },
  plugins: [overlay]
});
</script>
</body>
</html>
